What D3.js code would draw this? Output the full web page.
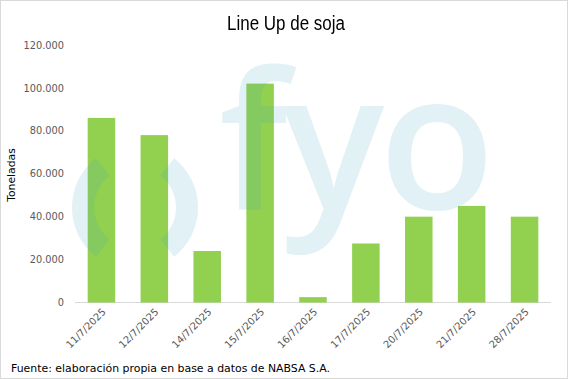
<!DOCTYPE html>
<html><head><meta charset="utf-8">
<script src="https://cdn.jsdelivr.net/npm/d3@7"></script>
<style>body{margin:0;background:#fff}svg{display:block}</style>
</head><body>
<svg id="c" width="568" height="379"></svg>
<script>
const categories = ["11/7/2025","12/7/2025","14/7/2025","15/7/2025","16/7/2025","17/7/2025","20/7/2025","21/7/2025","28/7/2025"];
const toneladas = [86000, 78000, 24000, 102000, 2500, 27500, 40000, 45000, 40000];
const yTicks = [0, 20000, 40000, 60000, 80000, 100000, 120000];
const title = "Line Up de soja";
const yTitle = "Toneladas";
const source = "Fuente: elaboración propia en base a datos de NABSA S.A.";

const svg = d3.select("#c");
const W = 568, H = 379;
svg.append("rect").attr("x",0.5).attr("y",0.5).attr("width",W-1).attr("height",H-1)
  .attr("fill","#fff").attr("stroke","#d9d9d9");

const m = {l:75, r:551, t:45, b:302.5};
const x = d3.scaleBand().domain(categories).range([m.l, m.r]).paddingInner(0.48).paddingOuter(0.24);
const y = d3.scaleLinear().domain([0,120000]).range([m.b, m.t]);
const fmt = d => d3.format(",")(d).replace(/,/g,".");

// y axis labels
const ya = svg.append("g").attr("transform",`translate(${m.l},0)`)
  .call(d3.axisLeft(y).tickValues(yTicks).tickFormat(fmt).tickSize(0).tickPadding(11));
ya.select(".domain").remove();
ya.selectAll("text").attr("fill","#595959").attr("font-family","DejaVu Sans").attr("font-size","9.8px");

// baseline
const xa = svg.append("g").attr("transform",`translate(0,${m.b})`)
  .call(d3.axisBottom(x).tickSize(0).tickPadding(0));
xa.select(".domain").attr("stroke","#d9d9d9").attr("d",`M${m.l},0H${m.r}`);
xa.selectAll("text").attr("fill","#595959").attr("font-family","DejaVu Sans").attr("font-size","10px")
  .attr("text-anchor","end").attr("dy",0)
  .attr("transform", "translate(5,10) rotate(-45)");

// bars
svg.append("g").selectAll("rect").data(categories).join("rect")
  .attr("x", d => x(d)).attr("width", x.bandwidth())
  .attr("y", (d,i) => y(toneladas[i])).attr("height", (d,i) => y(0) - y(toneladas[i]))
  .attr("fill","#92d050");

// watermark
const wm = svg.append("g").attr("fill","#3ca0c0").attr("opacity",0.15);
const arc = d3.arc().innerRadius(41).outerRadius(63);
wm.append("path").attr("transform","translate(135,207.5)")
  .attr("d", arc({startAngle:-Math.PI/2-0.9, endAngle:-Math.PI/2+0.9}));
wm.append("path").attr("transform","translate(135,207.5)")
  .attr("d", arc({startAngle:Math.PI/2-0.9, endAngle:Math.PI/2+0.9}));
wm.append("text").attr("x",219).attr("y",209).attr("font-family","Open Sans").attr("font-weight",600)
  .attr("font-size","190px").attr("textLength",276).attr("lengthAdjust","spacing").text("fyo");

// title
svg.append("text").attr("x",286).attr("y",30).attr("text-anchor","middle")
  .attr("font-family","Liberation Sans Narrow, Liberation Sans").attr("font-size","20px")
  .attr("textLength",118).attr("lengthAdjust","spacingAndGlyphs")
  .attr("fill","#000").text(title);

// y title
svg.append("text").attr("transform","translate(15,175) rotate(-90)").attr("text-anchor","middle")
  .attr("font-family","DejaVu Sans").attr("font-size","10.8px").attr("fill","#000").text(yTitle);

// source
svg.append("text").attr("x",11).attr("y",372).attr("font-family","DejaVu Sans").attr("font-size","10.8px")
  .attr("textLength",319).attr("lengthAdjust","spacingAndGlyphs")
  .attr("fill","#000").text(source);
</script>
</body></html>
